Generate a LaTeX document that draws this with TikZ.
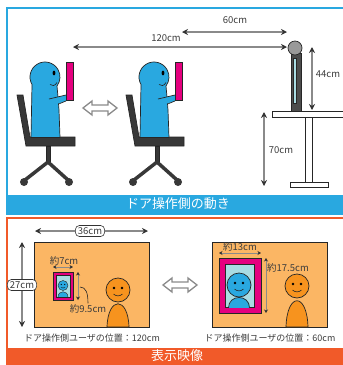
\documentclass[tikz,border=0pt]{standalone}
\usepackage{fontspec}
\setmainfont{Noto Sans CJK JP}
\usetikzlibrary{arrows.meta}

\definecolor{skyblue}{HTML}{29A8E0}
\definecolor{sunset}{HTML}{F15A29}
\definecolor{screenorange}{HTML}{FBB664}
\definecolor{personorange}{HTML}{F7931E}
\definecolor{pinkframe}{HTML}{E5007F}
\definecolor{paleblue}{HTML}{A9DCE3}
\definecolor{chairgray}{HTML}{383838}
\definecolor{textgray}{HTML}{3C3C3C}
\definecolor{linegray}{HTML}{8A8A8A}

\tikzset{
  outline/.style={draw=black!85, line width=0.7},
  dimline/.style={draw=linegray, line width=1.1,
    {Stealth[length=6pt,width=6pt,color=black!80]}-{Stealth[length=6pt,width=6pt,color=black!80]}},
  smalldim/.style={dimline, line width=0.8,
    {Stealth[length=3.5pt,width=4pt,color=black!80]}-{Stealth[length=3.5pt,width=4pt,color=black!80]}},
  dimlabel/.style={text=textgray, font=\fontsize{9.5}{11}\selectfont, inner sep=1pt},
  tagbox/.style={dimlabel, draw=black!80, fill=white, rounded corners=4pt, inner xsep=2.5pt, inner ysep=2pt, line width=0.6},
  caption/.style={text=textgray, font=\fontsize{9}{11}\selectfont},
  bannertext/.style={text=white, font=\fontsize{13}{15}\selectfont},
  chair/.style={outline, fill=chairgray},
  tablet/.style={outline, fill=pinkframe},
  swaparrow/.pic={
    \draw[linegray, fill=white, line width=1.3]
      (-17,0) -- (-8,-7) -- (-8,-3) -- (8,-3) -- (8,-7) -- (17,0)
      -- (8,7) -- (8,3) -- (-8,3) -- (-8,7) -- cycle;
  }
}

\begin{document}
\begin{tikzpicture}[x=1pt, y=-1pt]
\useasboundingbox (0,0) rectangle (343,365);

% ---- upper panel: moving the person at the door ----
\draw[skyblue, line width=1.2] (7,8) rectangle (346,214);
\fill[skyblue] (7,195) rectangle (346,214);
\node[bannertext] (title1) at (178,204) {ドア操作側の動き};

% two seated users
\foreach \dx in {0,109} {
  \begin{scope}[shift={(\dx,0)}]
    % chair
    \filldraw[chair] (17,95) -- (23,95) -- (30,137) -- (75,137) -- (75,146) -- (26,146) -- cycle;
    \filldraw[chair] (46,146) rectangle (50,163);
    \draw[chairgray, line width=3.5] (25,180) -- (48,162) -- (68,180);
    \fill[chairgray] (24,182) circle (4) (69,182) circle (4);
    % body and head
    \filldraw[outline, fill=skyblue] (31,137.5) -- (32,84.5)
      arc[start angle=150, end angle=396.87, radius=15] -- (58,97) -- (59,110) -- (60,137.5) -- cycle;
    \fill[skyblue] (49,99) -- (66,95) -- (66,101) -- (57,104) -- (56,99) -- cycle;
    \draw[outline] (49,99) -- (66,95);
    \draw[outline] (58.6,104) -- (66,101);
    \fill (54,73) ellipse [x radius=1.4, y radius=2.4];
    \draw[black!85, line width=0.6] (50,84.5) .. controls (52,86.5) and (55,86) .. (57,82.5);
    % tablet
    \filldraw[tablet] (66,62) rectangle (73,100);
  \end{scope}
}
\pic (swap1) at (100,108) {swaparrow};

% monitor with camera on the desk
\filldraw[outline, fill=white] (272,111) rectangle (346,117);
\draw[outline] (305,117) -- (305,182) (312,117) -- (312,182);
\filldraw[outline, fill=white] (290,182) rectangle (328,187);
\filldraw[outline, fill=black!70] (291,53) rectangle (301,111);
\filldraw[black!85, line width=0.5, fill=paleblue] (293,58) rectangle (296,103);
\filldraw[outline, fill=black!40] (295,48) circle (7);

% distances
\coordinate (far) at (73,47);
\coordinate (near) at (182,32);
\coordinate (cam) at (287,47);
\coordinate (camtop) at (287,32);
\draw[dimline] (far) -- (cam);
\draw[dimline] (near) -- (camtop);
\node[dimlabel] (lbl120) at (166,38) {120cm};
\node[dimlabel] (lbl60) at (235,20) {60cm};

\coordinate (monitortop) at (312,47);
\coordinate (desktop) at (312,110);
\draw[dimline] (monitortop) -- (desktop);
\node[dimlabel] (lbl44) at (328,74) {44cm};
\coordinate (deskhigh) at (264,112);
\coordinate (floor) at (264,186);
\draw[dimline] (deskhigh) -- (floor);
\node[dimlabel] (lbl70) at (281,150) {70cm};

% ---- lower panel: what the screen shows ----
\draw[sunset, line width=1.2] (7,218) rectangle (346,367);
\fill[sunset] (7,348) rectangle (346,367);
\node[bannertext] (title2) at (177,356) {表示映像};

% far view
\filldraw[outline, fill=screenorange] (34,242) rectangle (149,327);
\filldraw[outline, fill=pinkframe] (53,272) rectangle (73,300);
\filldraw[black!85, line width=0.5, fill=paleblue] (56,275) rectangle (70,297);
\begin{scope}
  \clip (56,275) rectangle (70,297);
  \filldraw[black!85, line width=0.4, fill=skyblue] (58,297) .. controls (58,290) and (68,290) .. (68,297);
  \filldraw[black!85, line width=0.4, fill=skyblue] (63,285.5) circle (5);
  \fill (61.3,284.5) circle (0.6) (64.7,284.5) circle (0.6);
  \draw[line width=0.3] (61,287.2) .. controls (62,288.4) and (64,288.4) .. (65,287.2);
\end{scope}
\filldraw[outline, fill=personorange] (107,327) .. controls (108,296) and (128,296) .. (129,327) -- cycle;
\filldraw[outline, fill=personorange] (118,290) circle (12);
\fill (114,288) circle (1.3) (122,288) circle (1.3);
\draw[black!85, line width=0.6] (113.5,294) .. controls (116,296.5) and (120,296.5) .. (122.5,294);

\coordinate (scrL) at (35,231);
\coordinate (scrR) at (148,231);
\draw[dimline] (scrL) -- (scrR);
\node[tagbox] (tag36) at (90,231) {36cm};
\coordinate (scrT) at (22,242);
\coordinate (scrB) at (22,327);
\draw[dimline] (scrT) -- (scrB);
\node[tagbox] (tag27) at (22,285) {27cm};

\coordinate (smallL) at (53,267);
\coordinate (smallR) at (73,267);
\draw[smalldim] (smallL) -- (smallR);
\node[dimlabel] (lbl7) at (64,261) {約7cm};
\coordinate (smallT) at (78,272);
\coordinate (smallB) at (78,300);
\draw[smalldim] (smallT) -- (smallB);
\node[dimlabel] (lbl95) at (88,309) {約9.5cm};
\draw[black!85, line width=0.6] (80,287) .. controls (86,287) and (88,293) .. (lbl95.north);
\node[caption] (cap120) at (92,338) {ドア操作側ユーザの位置：120cm};

\pic (swap2) at (180,285) {swaparrow};

% near view
\filldraw[outline, fill=screenorange] (212,242) rectangle (327,327);
\filldraw[outline, fill=pinkframe] (219,258) rectangle (261,313);
\filldraw[black!85, line width=0.6, fill=paleblue] (225,264) rectangle (254,307);
\begin{scope}
  \clip (225,264) rectangle (254,307);
  \filldraw[outline, fill=skyblue] (228.5,308) .. controls (228.5,294) and (249.5,294) .. (249.5,308);
  \filldraw[outline, fill=skyblue] (239,285) circle (12);
  \fill (235,283) circle (1.3) (243,283) circle (1.3);
  \draw[black!85, line width=0.6] (234.5,289) .. controls (237,291.5) and (241,291.5) .. (243.5,289);
\end{scope}
\filldraw[outline, fill=personorange] (286,327) .. controls (287,292) and (307,292) .. (308,327) -- cycle;
\filldraw[outline, fill=personorange] (297,286) circle (12);
\fill (293,284) circle (1.3) (301,284) circle (1.3);
\draw[black!85, line width=0.6] (292.5,290) .. controls (295,292.5) and (299,292.5) .. (301.5,290);

\coordinate (bigL) at (219,253);
\coordinate (bigR) at (261,253);
\draw[smalldim] (bigL) -- (bigR);
\node[dimlabel] (lbl13) at (240,247) {約13cm};
\coordinate (bigT) at (266,258);
\coordinate (bigB) at (266,313);
\draw[smalldim] (bigT) -- (bigB);
\node[dimlabel] (lbl175) at (288,268) {約17.5cm};
\node[caption] (cap60) at (270,338) {ドア操作側ユーザの位置：60cm};
\end{tikzpicture}
\end{document}
